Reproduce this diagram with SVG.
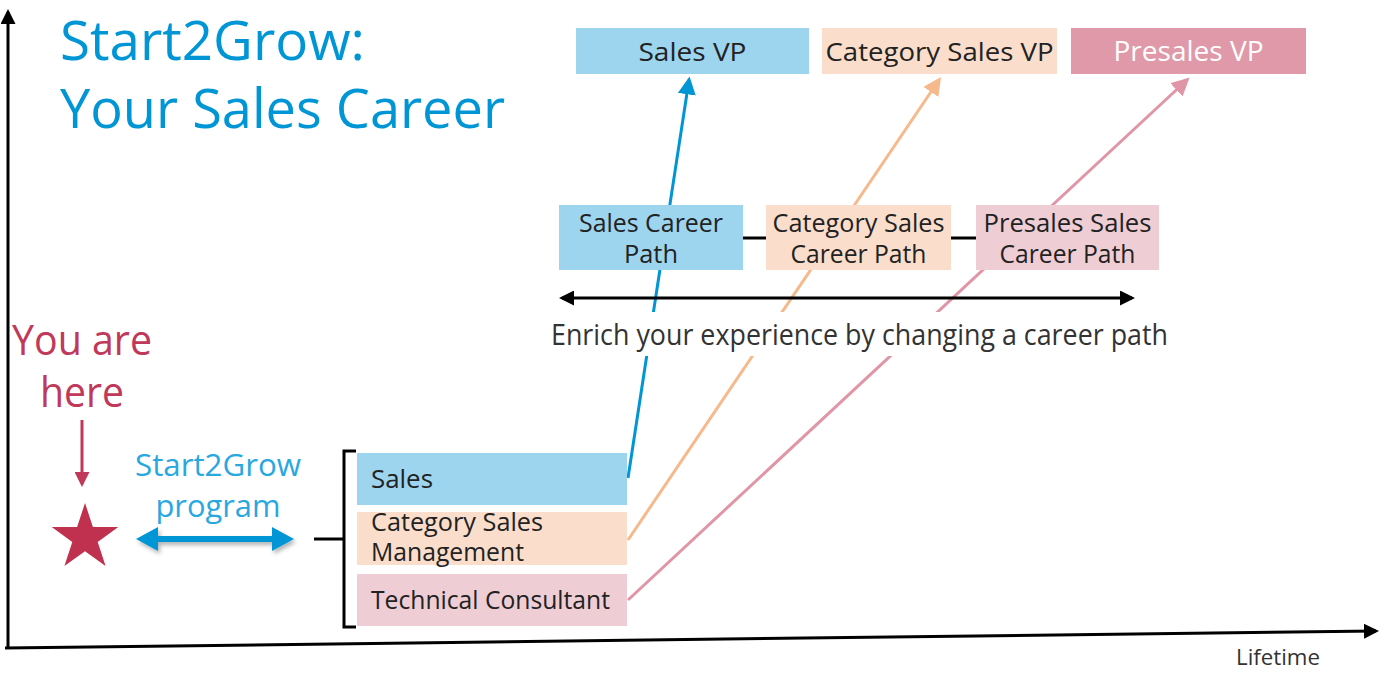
<svg xmlns="http://www.w3.org/2000/svg" width="1383" height="677" viewBox="0 0 1383 677">
<defs>
<style>
text{font-family:"Open Sans","Noto Sans","Liberation Sans",sans-serif;}
.t{fill:#222;font-size:25px;}
.blue{fill:#9dd5ef;}
.peach{fill:#fadecb;}
.pink{fill:#efcdd5;}
.axis{stroke:#000;stroke-width:3;fill:none;}
</style>
<marker id="ab" viewBox="0 0 10 10" refX="8" refY="5" markerWidth="5" markerHeight="5" orient="auto-start-reverse" markerUnits="strokeWidth"><path d="M0,0 L10,5 L0,10 z" fill="#000"/></marker>
<marker id="abl" viewBox="0 0 10 10" refX="8" refY="5" markerWidth="6" markerHeight="6" orient="auto-start-reverse" markerUnits="strokeWidth"><path d="M0,0 L10,5 L0,10 z" fill="#0096d6"/></marker>
<marker id="aor" viewBox="0 0 10 10" refX="8" refY="5" markerWidth="6" markerHeight="6" orient="auto" markerUnits="strokeWidth"><path d="M0,0 L10,5 L0,10 z" fill="#f5b98c"/></marker>
<marker id="apk" viewBox="0 0 10 10" refX="8" refY="5" markerWidth="6" markerHeight="6" orient="auto" markerUnits="strokeWidth"><path d="M0,0 L10,5 L0,10 z" fill="#e096a6"/></marker>
<marker id="ard" viewBox="0 0 10 10" refX="8" refY="5" markerWidth="5" markerHeight="5" orient="auto" markerUnits="strokeWidth"><path d="M0,0 L10,5 L0,10 z" fill="#c0395a"/></marker>
<filter id="sh" filterUnits="userSpaceOnUse" x="120" y="515" width="190" height="50"><feDropShadow dx="2" dy="3" stdDeviation="2" flood-color="#000" flood-opacity="0.3"/></filter>
</defs>
<rect width="1383" height="677" fill="#fff"/>

<g id="axes">
<line class="axis" x1="8" y1="648" x2="8" y2="12" marker-end="url(#ab)"/>
<line class="axis" x1="5" y1="648" x2="1376" y2="631" marker-end="url(#ab)"/>
<text x="1236" y="665" font-size="22" fill="#333" textLength="84" lengthAdjust="spacingAndGlyphs">Lifetime</text>
</g>

<g id="title">
<text x="60" y="60" font-size="55" fill="#0096d6" textLength="305" lengthAdjust="spacingAndGlyphs">Start2Grow:</text>
<text x="60" y="128" font-size="55" fill="#0096d6" textLength="445" lengthAdjust="spacingAndGlyphs">Your Sales Career</text>
</g>

<g id="connectors">
<line x1="628" y1="478" x2="689" y2="80" stroke="#0096d6" stroke-width="3" marker-end="url(#abl)"/>
<line x1="628" y1="540" x2="939" y2="80" stroke="#f5b98c" stroke-width="3" marker-end="url(#aor)"/>
<line x1="628" y1="600" x2="1187" y2="80" stroke="#e096a6" stroke-width="3" marker-end="url(#apk)"/>
<line x1="743" y1="238" x2="766" y2="238" stroke="#000" stroke-width="3"/>
<line x1="951" y1="238" x2="976" y2="238" stroke="#000" stroke-width="3"/>
<line x1="562" y1="298" x2="1132" y2="298" stroke="#000" stroke-width="3" marker-start="url(#ab)" marker-end="url(#ab)"/>
<line x1="82" y1="420" x2="82" y2="484" stroke="#c0395a" stroke-width="3" marker-end="url(#ard)"/>
<g filter="url(#sh)">
<line x1="150" y1="539" x2="280" y2="539" stroke="#0096d6" stroke-width="6"/>
<path d="M136,539 L158,527 L158,551 Z" fill="#0096d6"/>
<path d="M294,539 L272,527 L272,551 Z" fill="#0096d6"/>
</g>
<path d="M356,451 H344 V627 H356 M344,539 H314" stroke="#000" stroke-width="3" fill="none"/>
</g>

<g id="sales-vp">
<rect class="blue" x="576" y="28" width="233" height="46"/>
<text class="t" x="692.5" y="61" font-size="28" text-anchor="middle" textLength="108" lengthAdjust="spacingAndGlyphs">Sales VP</text>
</g>
<g id="category-sales-vp">
<rect class="peach" x="822" y="28" width="235" height="46"/>
<text class="t" x="939.5" y="61" font-size="28" text-anchor="middle" textLength="228" lengthAdjust="spacingAndGlyphs">Category Sales VP</text>
</g>
<g id="presales-vp">
<rect x="1071" y="28" width="235" height="46" fill="#e099a8"/>
<text x="1188.5" y="61" font-size="28" fill="#fff" text-anchor="middle" textLength="150" lengthAdjust="spacingAndGlyphs">Presales VP</text>
</g>

<g id="sales-career-path">
<rect class="blue" x="559" y="205" width="184" height="65"/>
<text class="t" x="651" y="232" text-anchor="middle" textLength="144" lengthAdjust="spacingAndGlyphs">Sales Career</text>
<text class="t" x="651" y="263" text-anchor="middle" textLength="54" lengthAdjust="spacingAndGlyphs">Path</text>
</g>
<g id="category-sales-career-path">
<rect class="peach" x="766" y="205" width="185" height="65"/>
<text class="t" x="858.5" y="232" text-anchor="middle" textLength="172" lengthAdjust="spacingAndGlyphs">Category Sales</text>
<text class="t" x="858.5" y="263" text-anchor="middle" textLength="136" lengthAdjust="spacingAndGlyphs">Career Path</text>
</g>
<g id="presales-sales-career-path">
<rect class="pink" x="976" y="205" width="183" height="65"/>
<text class="t" x="1067.5" y="232" text-anchor="middle" textLength="168" lengthAdjust="spacingAndGlyphs">Presales Sales</text>
<text class="t" x="1067.5" y="263" text-anchor="middle" textLength="136" lengthAdjust="spacingAndGlyphs">Career Path</text>
</g>

<g id="enrich">
<rect x="548" y="312" width="624" height="44" fill="#fff"/>
<text x="551" y="345" font-size="29" fill="#333" textLength="617" lengthAdjust="spacingAndGlyphs">Enrich your experience by changing a career path</text>
</g>

<g id="you-are-here">
<text x="82" y="355" font-size="42" fill="#c0395a" text-anchor="middle" textLength="140" lengthAdjust="spacingAndGlyphs">You are</text>
<text x="82" y="407" font-size="42" fill="#c0395a" text-anchor="middle" textLength="84" lengthAdjust="spacingAndGlyphs">here</text>
</g>
<g id="star">
<path d="M85,503 L92.9,527 L118.3,527 L97.7,542 L105.6,566 L85,551.3 L64.4,566 L72.3,542 L51.7,527 L77.1,527 Z" fill="#c0304f"/>
</g>
<g id="program">
<text x="218" y="476" font-size="31" fill="#29a8e0" text-anchor="middle" textLength="166" lengthAdjust="spacingAndGlyphs">Start2Grow</text>
<text x="218" y="517" font-size="31" fill="#29a8e0" text-anchor="middle" textLength="125" lengthAdjust="spacingAndGlyphs">program</text>
</g>

<g id="sales">
<rect class="blue" x="357" y="453" width="270" height="52"/>
<text class="t" x="371" y="488" textLength="62" lengthAdjust="spacingAndGlyphs">Sales</text>
</g>
<g id="category-sales-management">
<rect class="peach" x="357" y="512" width="270" height="53"/>
<text class="t" x="371" y="531" font-size="24" textLength="172" lengthAdjust="spacingAndGlyphs">Category Sales</text>
<text class="t" x="371" y="561" font-size="24" textLength="153" lengthAdjust="spacingAndGlyphs">Management</text>
</g>
<g id="technical-consultant">
<rect class="pink" x="357" y="574" width="270" height="52"/>
<text class="t" x="371" y="609" textLength="239" lengthAdjust="spacingAndGlyphs">Technical Consultant</text>
</g>
</svg>
